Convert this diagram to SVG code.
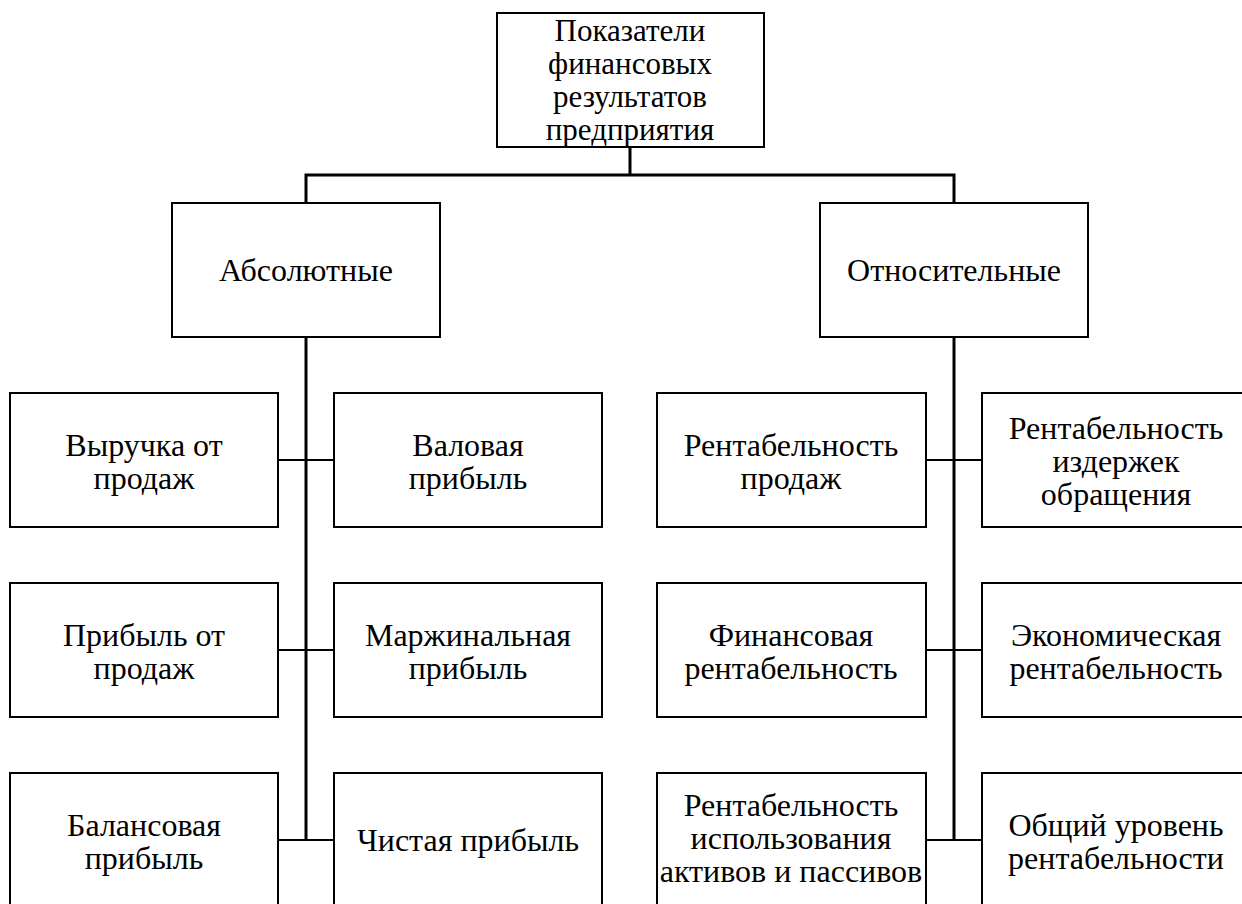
<svg xmlns="http://www.w3.org/2000/svg" width="1242" height="904" viewBox="0 0 1242 904">
<style>
.box{fill:#fff;stroke:#000;stroke-width:2}
.t{font-family:'Liberation Serif','DejaVu Serif','Times New Roman',serif;font-size:32px;fill:#000;text-anchor:middle}
.s{font-size:31px}
.c{fill:none;stroke:#000;stroke-width:3}
.h{fill:none;stroke:#000;stroke-width:2}
</style>
<rect width="1242" height="904" fill="#fff"/>
<g id="connectors">
<polyline class="c" points="630,147 630,175"/>
<polyline class="c" points="306,203 306,175 954,175 954,203"/>
<polyline class="c" points="306,337 306,840"/>
<polyline class="c" points="954,337 954,840"/>
<line class="h" x1="278" y1="460" x2="334" y2="460"/>
<line class="h" x1="278" y1="650" x2="334" y2="650"/>
<line class="h" x1="278" y1="840" x2="334" y2="840"/>
<line class="h" x1="926" y1="460" x2="982" y2="460"/>
<line class="h" x1="926" y1="650" x2="982" y2="650"/>
<line class="h" x1="926" y1="840" x2="982" y2="840"/>
</g>
<g id="root">
<rect class="box" x="497" y="13" width="267" height="134"/>
<text class="t s" x="630" y="41">Показатели</text>
<text class="t s" x="630" y="74">финансовых</text>
<text class="t s" x="630" y="107">результатов</text>
<text class="t s" x="630" y="140">предприятия</text>
</g>
<g id="absolute">
<rect class="box" x="172" y="203" width="268" height="134"/>
<text class="t" x="306" y="281">Абсолютные</text>
</g>
<g id="relative">
<rect class="box" x="820" y="203" width="268" height="134"/>
<text class="t" x="954" y="281">Относительные</text>
</g>
<g id="revenue">
<rect class="box" x="10" y="393" width="268" height="134"/>
<text class="t" x="144" y="456">Выручка от</text>
<text class="t" x="144" y="489">продаж</text>
</g>
<g id="gross">
<rect class="box" x="334" y="393" width="268" height="134"/>
<text class="t" x="468" y="456">Валовая</text>
<text class="t" x="468" y="489">прибыль</text>
</g>
<g id="sales-profit">
<rect class="box" x="10" y="583" width="268" height="134"/>
<text class="t" x="144" y="646">Прибыль от</text>
<text class="t" x="144" y="679">продаж</text>
</g>
<g id="marginal">
<rect class="box" x="334" y="583" width="268" height="134"/>
<text class="t" x="468" y="646">Маржинальная</text>
<text class="t" x="468" y="679">прибыль</text>
</g>
<g id="balance">
<rect class="box" x="10" y="773" width="268" height="134"/>
<text class="t" x="144" y="836">Балансовая</text>
<text class="t" x="144" y="869">прибыль</text>
</g>
<g id="net">
<rect class="box" x="334" y="773" width="268" height="134"/>
<text class="t" x="468" y="851">Чистая прибыль</text>
</g>
<g id="ros">
<rect class="box" x="657" y="393" width="269" height="134"/>
<text class="t" x="791" y="456">Рентабельность</text>
<text class="t" x="791" y="489">продаж</text>
</g>
<g id="roc">
<rect class="box" x="982" y="393" width="268" height="134"/>
<text class="t" x="1116" y="439">Рентабельность</text>
<text class="t" x="1116" y="472">издержек</text>
<text class="t" x="1116" y="505">обращения</text>
</g>
<g id="fin">
<rect class="box" x="657" y="583" width="269" height="134"/>
<text class="t" x="791" y="646">Финансовая</text>
<text class="t" x="791" y="679">рентабельность</text>
</g>
<g id="econ">
<rect class="box" x="982" y="583" width="268" height="134"/>
<text class="t" x="1116" y="646">Экономическая</text>
<text class="t" x="1116" y="679">рентабельность</text>
</g>
<g id="assets">
<rect class="box" x="657" y="773" width="269" height="134"/>
<text class="t" x="791" y="816">Рентабельность</text>
<text class="t" x="791" y="849">использования</text>
<text class="t" x="791" y="882">активов и пассивов</text>
</g>
<g id="overall">
<rect class="box" x="982" y="773" width="268" height="134"/>
<text class="t" x="1116" y="836">Общий уровень</text>
<text class="t" x="1116" y="869">рентабельности</text>
</g>
</svg>
